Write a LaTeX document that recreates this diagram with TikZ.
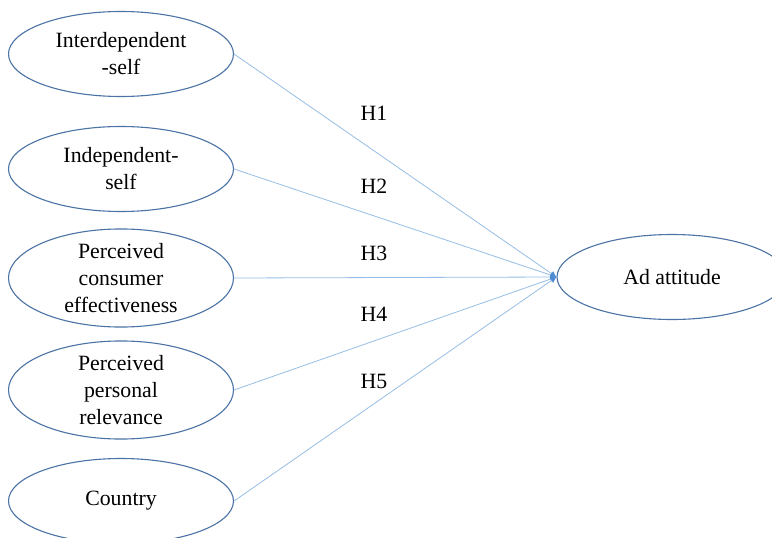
\documentclass[tikz,border=0pt]{standalone}
\usepackage{fontspec}
\setmainfont{Liberation Serif}
\usetikzlibrary{shapes.geometric,arrows.meta}
\definecolor{edgeblue}{RGB}{75,115,165}
\definecolor{lineblue}{RGB}{150,190,230}
\definecolor{tipblue}{RGB}{80,140,210}
\tikzset{
  construct/.style={draw=edgeblue, line width=1.1pt, ellipse, minimum width=225pt, minimum height=85pt, inner sep=0pt, align=center, font=\fontsize{21.8}{27}\selectfont},
  link/.style={draw=lineblue, line width=0.8pt, -{Latex[length=6pt,width=6pt,fill=tipblue,color=tipblue]}},
  hyp/.style={font=\fontsize{21.8}{24}\selectfont}
}
\begin{document}
\begin{tikzpicture}[x=1pt,y=-1pt]
\useasboundingbox (0,0) rectangle (772,538);
\clip (0,0) rectangle (772,538);
\fill[white] (0,0) rectangle (772,538);
\node[construct] (a) at (121,54) {Interdependent\\-self};
\node[construct] (b) at (121,169) {Independent-\\self};
\node[construct] (c) at (121,278) {Perceived\\consumer\\effectiveness};
\node[construct] (d) at (121,390) {Perceived\\personal\\relevance};
\node[construct] (e) at (121,501) {Country};
\node[construct, minimum width=230pt] (ad) at (672,277) {Ad attitude};
\foreach \n in {a,b,c,d,e} \draw[link] (\n.east) -- (ad.west);
\node[hyp] (h1) at (374,113) {H1};
\node[hyp] (h2) at (374,186) {H2};
\node[hyp] (h3) at (374,253) {H3};
\node[hyp] (h4) at (374,314) {H4};
\node[hyp] (h5) at (374,381) {H5};
\end{tikzpicture}
\end{document}
